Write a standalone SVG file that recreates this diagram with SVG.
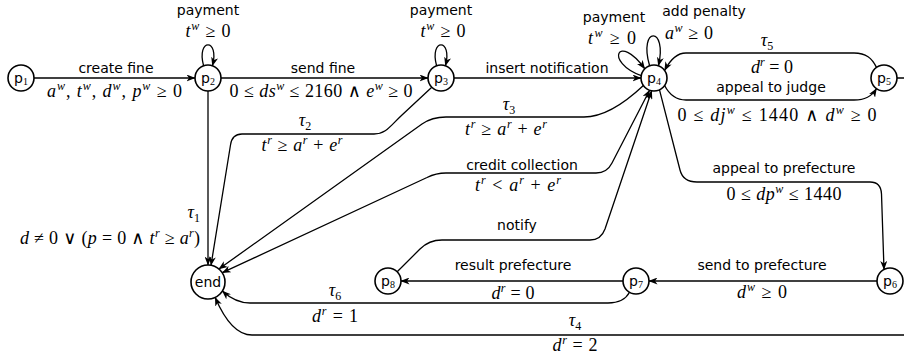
<svg xmlns="http://www.w3.org/2000/svg" width="904" height="360" viewBox="0 0 904 360">
<defs>
<marker id="ah" viewBox="0 0 9 7" refX="8.5" refY="3.5" markerWidth="9" markerHeight="7" markerUnits="userSpaceOnUse" orient="auto-start-reverse"><path d="M0,0 L9,3.5 L0,7 L2.5,3.5 Z" fill="#000"/></marker>
</defs>
<style>
.n circle{fill:#fff;stroke:#000;stroke-width:1.6}
.n text{font-family:"DejaVu Sans",sans-serif;font-size:14px;text-anchor:middle;fill:#000}
.n .sb{font-family:"Liberation Serif",serif;font-size:10px}
.e{fill:none;stroke:#000;stroke-width:1.3;marker-end:url(#ah)}
.e2{marker-start:url(#ah)}
.lb{font-family:"DejaVu Sans",sans-serif;font-size:14px;text-anchor:middle;fill:#000}
.m{font-family:"Liberation Serif","DejaVu Serif",serif;font-size:18px;text-anchor:middle;fill:#000}
.r{text-anchor:end}
.i{font-style:italic}
.sp{font-size:12px;font-style:italic}
.sb{font-size:12px}
</style>
<rect width="904" height="360" fill="#fff"/>
<g id="connectors">
<path class="e" d="M34 78 H195"/>
<path class="e" d="M203.6 65.8 C196 38, 220 38, 212.4 65.8"/>
<path class="e" d="M221 78 H428"/>
<path class="e" d="M436.6 65.8 C429 38, 453 38, 445.4 65.8"/>
<path class="e" d="M454 78 H641"/>
<path class="e" d="M641.2 75.7 C604 62, 618 32, 644.8 68.8"/>
<path class="e" d="M649.6 65.8 C638 26, 668 26, 658.4 65.8"/>
<path class="e" d="M876.5 67.4 C872 58, 866 53, 854 53 L686 53 C675 53, 669 62, 664.6 70.5"/>
<path class="e" d="M664.6 85.5 C669 94, 675 100, 686 100 L854 100 C866 100, 872 96, 876.5 88.6"/>
<path class="e" d="M897 78 H905 Q915 78 915 88 V325 Q915 335 905 335 H252 C236 335, 224 318, 215.2 297.4"/>
<path class="e" d="M659.5 89.8 L680 170 Q683 182 697 182 H870 Q881 182 881.5 194 L884 269.5"/>
<path class="e" d="M877 281 H649"/>
<path class="e" d="M623 281 H401"/>
<path class="e" d="M629.5 292.3 C626 299, 620 303, 608 303 H250 C238 303, 230 298, 222.4 291"/>
<path class="e" d="M397.2 271.8 L420 249 Q429 240 442 240 H590 Q601 240 605 229 L651.7 90.8"/>
<path class="e e2" d="M649.6 90.2 L612 163 Q607 173 596 173 H446 Q436 173 427 177.5 L222.3 272.7"/>
<path class="e" d="M643.4 85.5 C628 100, 606 117, 584 117 H446 Q432 117 422 124 L218.9 269"/>
<path class="e" d="M431.8 87.2 L402 115 C390 126.2, 386 134, 374 134 H242 Q232 134 230.5 145 L211 265.3"/>
<path class="e" d="M208 91 V265"/>
</g>
<g id="labels">
<text class="lb" x="116" y="73">create fine</text>
<text class="m" x="114.5" y="97" textLength="135"><tspan class="i">a</tspan><tspan class="sp" dy="-7">w</tspan><tspan dy="7">, </tspan><tspan class="i">t</tspan><tspan class="sp" dy="-7">w</tspan><tspan dy="7">, </tspan><tspan class="i">d</tspan><tspan class="sp" dy="-7">w</tspan><tspan dy="7">, </tspan><tspan class="i">p</tspan><tspan class="sp" dy="-7">w</tspan><tspan dy="7"> ≥ 0</tspan></text>
<text class="lb" x="208" y="15">payment</text>
<text class="m" x="208" y="37" textLength="45"><tspan class="i">t</tspan><tspan class="sp" dy="-7">w</tspan><tspan dy="7"> ≥ 0</tspan></text>
<text class="lb" x="323" y="73">send fine</text>
<text class="m" x="321" y="97" textLength="183">0 ≤ <tspan class="i">ds</tspan><tspan class="sp" dy="-7">w</tspan><tspan dy="7"> ≤ 2160 ∧ </tspan><tspan class="i">e</tspan><tspan class="sp" dy="-7">w</tspan><tspan dy="7"> ≥ 0</tspan></text>
<text class="lb" x="441" y="15">payment</text>
<text class="m" x="443" y="37" textLength="45"><tspan class="i">t</tspan><tspan class="sp" dy="-7">w</tspan><tspan dy="7"> ≥ 0</tspan></text>
<text class="lb" x="547" y="73">insert notification</text>
<text class="lb" x="614" y="22">payment</text>
<text class="m" x="612" y="44" textLength="48"><tspan class="i">t</tspan><tspan class="sp" dy="-7">w</tspan><tspan dy="7"> ≥ 0</tspan></text>
<text class="lb" x="704" y="16">add penalty</text>
<text class="m" x="689" y="39" textLength="48"><tspan class="i">a</tspan><tspan class="sp" dy="-7">w</tspan><tspan dy="7"> ≥ 0</tspan></text>
<text class="m" x="767" y="46"><tspan class="i">τ</tspan><tspan class="sb" dy="4">5</tspan></text>
<text class="m" x="772" y="73" textLength="42"><tspan class="i">d</tspan><tspan class="sp" dy="-7">r</tspan><tspan dy="7"> = 0</tspan></text>
<text class="lb" x="771" y="92">appeal to judge</text>
<text class="m" x="777" y="121" textLength="199">0 ≤ <tspan class="i">dj</tspan><tspan class="sp" dy="-7">w</tspan><tspan dy="7"> ≤ 1440 ∧ </tspan><tspan class="i">d</tspan><tspan class="sp" dy="-7">w</tspan><tspan dy="7"> ≥ 0</tspan></text>
<text class="m" x="305" y="126"><tspan class="i">τ</tspan><tspan class="sb" dy="4">2</tspan></text>
<text class="m" x="302" y="151" textLength="81"><tspan class="i">t</tspan><tspan class="sp" dy="-7">r</tspan><tspan dy="7"> ≥ </tspan><tspan class="i">a</tspan><tspan class="sp" dy="-7">r</tspan><tspan dy="7"> + </tspan><tspan class="i">e</tspan><tspan class="sp" dy="-7">r</tspan></text>
<text class="m" x="509" y="110"><tspan class="i">τ</tspan><tspan class="sb" dy="4">3</tspan></text>
<text class="m" x="506" y="135" textLength="82"><tspan class="i">t</tspan><tspan class="sp" dy="-7">r</tspan><tspan dy="7"> ≥ </tspan><tspan class="i">a</tspan><tspan class="sp" dy="-7">r</tspan><tspan dy="7"> + </tspan><tspan class="i">e</tspan><tspan class="sp" dy="-7">r</tspan></text>
<text class="lb" x="522" y="170">credit collection</text>
<text class="m" x="518" y="191" textLength="86"><tspan class="i">t</tspan><tspan class="sp" dy="-7">r</tspan><tspan dy="7"> &lt; </tspan><tspan class="i">a</tspan><tspan class="sp" dy="-7">r</tspan><tspan dy="7"> + </tspan><tspan class="i">e</tspan><tspan class="sp" dy="-7">r</tspan></text>
<text class="lb" x="517" y="230">notify</text>
<text class="m r" x="200" y="218"><tspan class="i">τ</tspan><tspan class="sb" dy="4">1</tspan></text>
<text class="m r" x="200" y="244" textLength="180"><tspan class="i">d</tspan> ≠ 0 ∨ (<tspan class="i">p</tspan> = 0 ∧ <tspan class="i">t</tspan><tspan class="sp" dy="-7">r</tspan><tspan dy="7"> ≥ </tspan><tspan class="i">a</tspan><tspan class="sp" dy="-7">r</tspan><tspan dy="7">)</tspan></text>
<text class="lb" x="784" y="173">appeal to prefecture</text>
<text class="m" x="784" y="200" textLength="115">0 ≤ <tspan class="i">dp</tspan><tspan class="sp" dy="-7">w</tspan><tspan dy="7"> ≤ 1440</tspan></text>
<text class="lb" x="762" y="270">send to prefecture</text>
<text class="m" x="762" y="298" textLength="50"><tspan class="i">d</tspan><tspan class="sp" dy="-7">w</tspan><tspan dy="7"> ≥ 0</tspan></text>
<text class="lb" x="513" y="270">result prefecture</text>
<text class="m" x="513" y="299" textLength="43"><tspan class="i">d</tspan><tspan class="sp" dy="-7">r</tspan><tspan dy="7"> = 0</tspan></text>
<text class="m" x="335" y="296"><tspan class="i">τ</tspan><tspan class="sb" dy="4">6</tspan></text>
<text class="m" x="335" y="322" textLength="46"><tspan class="i">d</tspan><tspan class="sp" dy="-7">r</tspan><tspan dy="7"> = 1</tspan></text>
<text class="m" x="575" y="326"><tspan class="i">τ</tspan><tspan class="sb" dy="4">4</tspan></text>
<text class="m" x="575" y="351" textLength="45"><tspan class="i">d</tspan><tspan class="sp" dy="-7">r</tspan><tspan dy="7"> = 2</tspan></text>
</g>
<g id="p1" class="n"><circle cx="21" cy="78" r="13"/><text x="21" y="83">p<tspan class="sb" dy="2">1</tspan></text></g>
<g id="p2" class="n"><circle cx="208" cy="78" r="13"/><text x="208" y="83">p<tspan class="sb" dy="2">2</tspan></text></g>
<g id="p3" class="n"><circle cx="441" cy="78" r="13"/><text x="441" y="83">p<tspan class="sb" dy="2">3</tspan></text></g>
<g id="p4" class="n"><circle cx="654" cy="78" r="13"/><text x="654" y="83">p<tspan class="sb" dy="2">4</tspan></text></g>
<g id="p5" class="n"><circle cx="884" cy="78" r="13"/><text x="884" y="83">p<tspan class="sb" dy="2">5</tspan></text></g>
<g id="p6" class="n"><circle cx="890" cy="281" r="13"/><text x="890" y="286">p<tspan class="sb" dy="2">6</tspan></text></g>
<g id="p7" class="n"><circle cx="636" cy="281" r="13"/><text x="636" y="286">p<tspan class="sb" dy="2">7</tspan></text></g>
<g id="p8" class="n"><circle cx="388" cy="281" r="13"/><text x="388" y="286">p<tspan class="sb" dy="2">8</tspan></text></g>
<g id="end" class="n"><circle cx="208" cy="282" r="17"/><text x="208" y="287">end</text></g>
</svg>
